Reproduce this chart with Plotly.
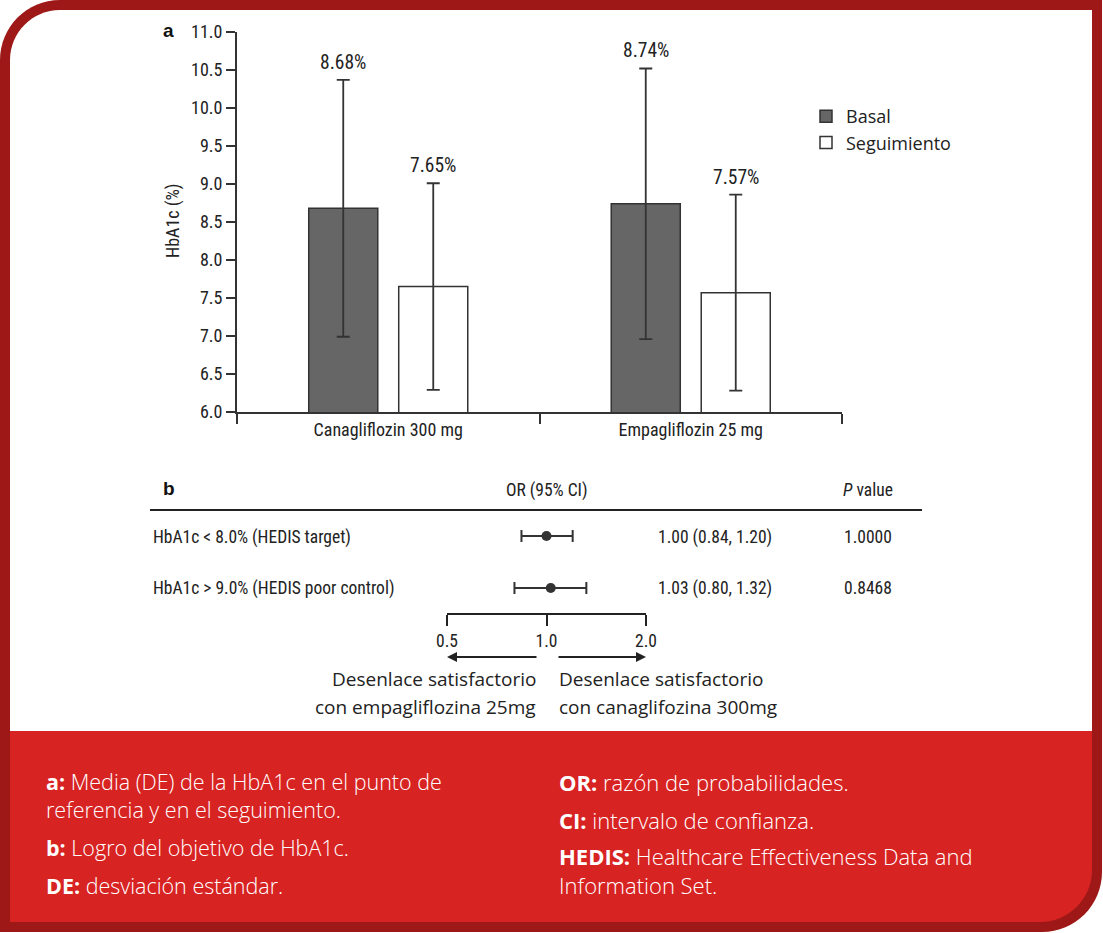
import math
import plotly.graph_objects as go

W, H = 1103, 933

# panel a: HbA1c mean (SD) at baseline and follow-up
groups = ["Canagliflozin 300 mg", "Empagliflozin 25 mg"]
basal_mean = [8.68, 8.74]
basal_sd = [1.69, 1.78]
follow_mean = [7.65, 7.57]
follow_sd = [1.36, 1.29]
series_names = ["Basal", "Seguimiento"]
y_ticks = [6.0, 6.5, 7.0, 7.5, 8.0, 8.5, 9.0, 9.5, 10.0, 10.5, 11.0]

# panel b: odds ratios
outcomes = ["HbA1c &lt; 8.0% (HEDIS target)", "HbA1c &gt; 9.0% (HEDIS poor control)"]
or_vals = [1.00, 1.03]
ci_lo = [0.84, 0.80]
ci_hi = [1.20, 1.32]
p_vals = ["1.0000", "0.8468"]
or_ticks = [0.5, 1.0, 2.0]
or_ticktext = ["0.5", "1.0", "2.0"]
row_pos = [2, 1]

left_note = ["Desenlace satisfactorio", "con empagliflozina 25mg"]
right_note = ["Desenlace satisfactorio", "con canaglifozina 300mg"]

footer_left = [
    ("<b>a:</b> Media (DE) de la HbA1c en el punto de<br>referencia y en el seguimiento.", 795),
    ("<b>b:</b> Logro del objetivo de HbA1c.", 847),
    ("<b>DE:</b> desviación estándar.", 885),
]
footer_right = [
    ("<b>OR:</b> razón de probabilidades.", 782),
    ("<b>CI:</b> intervalo de confianza.", 820),
    ("<b>HEDIS:</b> Healthcare Effectiveness Data and<br>Information Set.", 870),
]

COND = "Roboto Condensed, Liberation Sans, sans-serif"
OPEN = "Open Sans, Noto Sans, sans-serif"
INK = "#222222"
DARK_RED = "#9e1818"
RED = "#d82323"


def px(x):
    return x / W


def py(y):
    return 1 - y / H


def rounded_path(x0, y0, x1, y1, r_tl=0, r_br=0):
    k = 0.5523
    pts = []
    pts.append("M %f,%f" % (px(x0 + r_tl), py(y0)))
    pts.append("L %f,%f" % (px(x1), py(y0)))
    pts.append("L %f,%f" % (px(x1), py(y1 - r_br)))
    if r_br:
        pts.append("C %f,%f %f,%f %f,%f" % (
            px(x1), py(y1 - r_br + k * r_br),
            px(x1 - r_br + k * r_br), py(y1),
            px(x1 - r_br), py(y1)))
    pts.append("L %f,%f" % (px(x0), py(y1)))
    pts.append("L %f,%f" % (px(x0), py(y0 + r_tl)))
    if r_tl:
        pts.append("C %f,%f %f,%f %f,%f" % (
            px(x0), py(y0 + r_tl - k * r_tl),
            px(x0 + r_tl - k * r_tl), py(y0),
            px(x0 + r_tl), py(y0)))
    pts.append("Z")
    return " ".join(pts)


def label(x, y, text, size=17.5, family=COND, color=INK, xanchor="center", **kw):
    d = dict(x=px(x), y=py(y), xref="paper", yref="paper", text=text, showarrow=False,
             xanchor=xanchor, yanchor="middle",
             font=dict(family=family, size=size, color=color))
    d["font"].update(kw.pop("font_extra", {}))
    d.update(kw)
    return d


fig = go.Figure()

fig.add_trace(go.Bar(
    x=groups, y=basal_mean, name=series_names[0],
    marker=dict(color="#666666", line=dict(color="#333333", width=1.5)),
    error_y=dict(type="data", array=basal_sd, color="#333333", thickness=1.8, width=6.5),
    xaxis="x", yaxis="y",
))
fig.add_trace(go.Bar(
    x=groups, y=follow_mean, name=series_names[1],
    marker=dict(color="#ffffff", line=dict(color="#333333", width=1.5)),
    error_y=dict(type="data", array=follow_sd, color="#333333", thickness=1.8, width=6.5),
    xaxis="x", yaxis="y",
))

# forest plot
fig.add_trace(go.Scatter(
    x=or_vals, y=row_pos, mode="markers", showlegend=False,
    marker=dict(color="#333333", size=10),
    error_x=dict(type="data", symmetric=False,
                 array=[h - o for h, o in zip(ci_hi, or_vals)],
                 arrayminus=[o - l for o, l in zip(or_vals, ci_lo)],
                 color="#333333", thickness=2, width=6),
    xaxis="x2", yaxis="y2",
))

annotations = []

# value labels on top of error bars
for i, g in enumerate(groups):
    for mean, sd, shift in ((basal_mean[i], basal_sd[i], -45), (follow_mean[i], follow_sd[i], 45)):
        annotations.append(dict(
            x=g, y=mean + sd, xref="x", yref="y", text="%.2f%%" % mean,
            showarrow=False, xshift=shift, xanchor="center", yanchor="bottom", yshift=4,
            font=dict(family=COND, size=19.5, color=INK),
        ))

annotations += [
    label(168, 30, "<b>a</b>", size=19, family="Liberation Sans, sans-serif", color="#111"),
    label(173, 221, "HbA1c (%)", size=18, textangle=-90),
    label(169, 488, "<b>b</b>", size=19, family="Liberation Sans, sans-serif", color="#111"),
    label(547, 490, "OR (95% CI)"),
    label(895, 490, "<i>P</i> value", xanchor="right"),
]

row_px = [537, 588]
for lab, o, lo, hi, p, ry in zip(outcomes, or_vals, ci_lo, ci_hi, p_vals, row_px):
    annotations.append(label(151, ry, lab, xanchor="left"))
    annotations.append(label(656, ry, "%.2f (%.2f, %.2f)" % (o, lo, hi), xanchor="left"))
    annotations.append(label(894, ry, p, xanchor="right"))

# direction arrows
annotations.append(dict(x=px(447), y=py(657), xref="paper", yref="paper", ax=91, ay=0,
                        text="", showarrow=True, arrowhead=2, arrowsize=1, arrowwidth=2,
                        arrowcolor=INK))
annotations.append(dict(x=px(646), y=py(657), xref="paper", yref="paper", ax=-89, ay=0,
                        text="", showarrow=True, arrowhead=2, arrowsize=1, arrowwidth=2,
                        arrowcolor=INK))
for txt, ly in zip(left_note, [679, 707]):
    annotations.append(label(538, ly, txt, size=19, family=OPEN, xanchor="right"))
for txt, ly in zip(right_note, [679, 707]):
    annotations.append(label(557, ly, txt, size=19, family=OPEN, xanchor="left"))

for txt, ly in footer_left:
    annotations.append(label(44, ly, txt, size=21.5, family=OPEN, color="#ffffff",
                             xanchor="left", align="left", font_extra=dict(weight=300)))
for txt, ly in footer_right:
    annotations.append(label(557, ly, txt, size=22, family=OPEN, color="#ffffff",
                             xanchor="left", align="left", font_extra=dict(weight=300)))

shapes = [
    dict(type="path", xref="paper", yref="paper", layer="below", line_width=0,
         fillcolor=DARK_RED, path=rounded_path(0, 0, 1102, 932, r_tl=60, r_br=60)),
    dict(type="path", xref="paper", yref="paper", layer="below", line_width=0,
         fillcolor="#ffffff", path=rounded_path(10, 10, 1092, 731, r_tl=50)),
    dict(type="path", xref="paper", yref="paper", layer="below", line_width=0,
         fillcolor=RED, path=rounded_path(10, 731, 1092, 922, r_br=52)),
    # table header rule
    dict(type="line", xref="paper", yref="paper", x0=px(150), x1=px(922), y0=py(510), y1=py(510),
         line=dict(color=INK, width=2)),
    # line of no effect (OR = 1, log axis -> 0)
    dict(type="line", xref="x2", yref="paper", x0=math.log10(1.0), x1=math.log10(1.0),
         y0=py(514), y1=py(624), line=dict(color=INK, width=1.8, dash="dash")),
]

fig.update_layout(
    width=W, height=H,
    margin=dict(l=0, r=0, t=0, b=0, autoexpand=False),
    paper_bgcolor="#ffffff",
    plot_bgcolor="rgba(0,0,0,0)",
    barmode="group", bargap=0.405, bargroupgap=0.233,
    font=dict(family=COND, size=18, color=INK),
    showlegend=True,
    legend=dict(x=px(806), y=py(98), xanchor="left", yanchor="top",
                bgcolor="rgba(0,0,0,0)", font=dict(family=OPEN, size=18, color=INK),
                tracegroupgap=0, itemwidth=30),
    xaxis=dict(domain=[px(237), px(842)], anchor="y", type="category", automargin=False,
               showline=True, linecolor="#333333", linewidth=1.8,
               ticks="outside", tickson="boundaries", ticklen=10, tickwidth=1.8,
               tickcolor="#333333", showgrid=False, zeroline=False,
               tickfont=dict(family=COND, size=18, color=INK)),
    yaxis=dict(domain=[py(412), py(32)], anchor="x", range=[6, 11], automargin=False,
               tickvals=y_ticks, tickformat=".1f",
               showline=True, linecolor="#333333", linewidth=1.8,
               ticks="outside", ticklen=9, tickwidth=1.8, tickcolor="#333333",
               showgrid=False, zeroline=False,
               tickfont=dict(family=COND, size=18, color=INK)),
    xaxis2=dict(domain=[px(447), px(646)], anchor="y2", type="log", automargin=False,
                range=[math.log10(0.5), math.log10(2.0)],
                tickvals=or_ticks, ticktext=or_ticktext,
                showline=True, linecolor=INK, linewidth=2,
                ticks="outside", ticklen=11, tickwidth=2, tickcolor=INK,
                showgrid=False, zeroline=False,
                tickfont=dict(family=COND, size=17.5, color=INK)),
    yaxis2=dict(domain=[py(613), py(510)], anchor="x2", range=[0.52, 2.5], automargin=False,
                visible=False, showgrid=False, zeroline=False),
    annotations=annotations,
    shapes=shapes,
)

fig.write_html("out.html", config={"displayModeBar": False},
               post_script="document.body.style.margin='0';")
